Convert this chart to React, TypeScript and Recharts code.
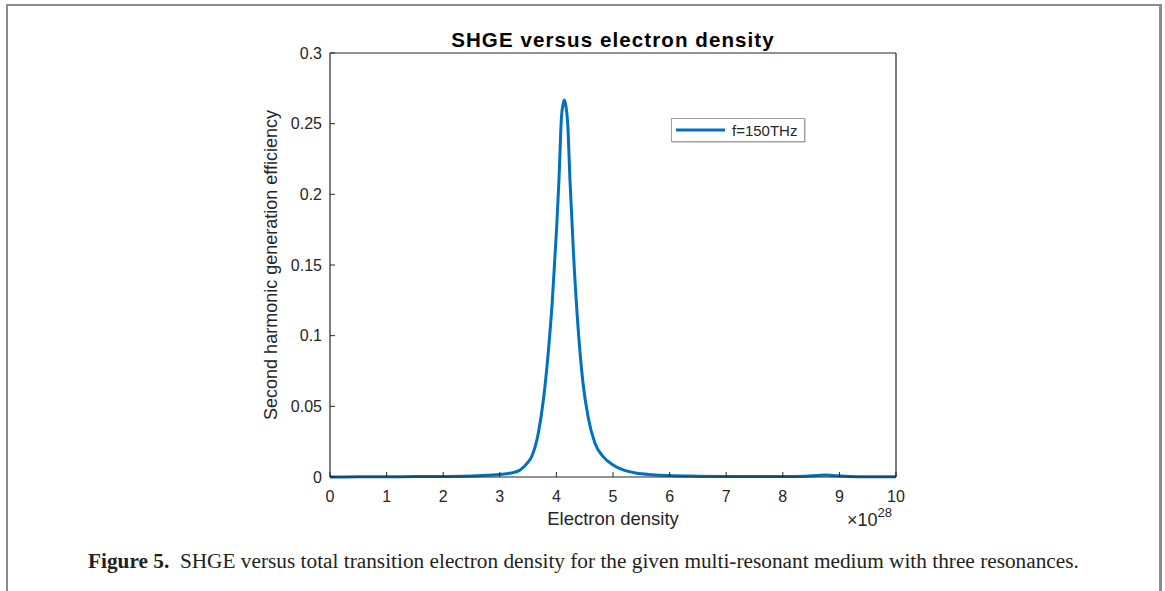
import React from 'react';
import { LineChart, Line, XAxis, YAxis } from 'recharts';

const densityX = [0, 0.5, 1, 1.5, 2, 2.5, 2.8, 3.0, 3.2, 3.36, 3.5, 3.56, 3.68, 3.77, 3.86, 3.925, 3.98, 4.005, 4.045, 4.09, 4.12, 4.14, 4.17, 4.2, 4.24, 4.28, 4.3, 4.37, 4.47, 4.56, 4.68, 4.83, 5.0, 5.18, 5.4, 5.7, 6.0, 6.5, 7, 7.5, 8, 8.4, 8.6, 8.77, 8.95, 9.2, 9.6, 10];
const shgeY = [0, 0.0001, 0.0002, 0.0003, 0.0004, 0.0007, 0.0013, 0.0018, 0.0028, 0.005, 0.0105, 0.0142, 0.031, 0.0545, 0.09, 0.123, 0.16, 0.177, 0.21, 0.255, 0.264, 0.2667, 0.262, 0.25, 0.21, 0.177, 0.16, 0.113, 0.0665, 0.0425, 0.024, 0.0142, 0.0085, 0.005, 0.0028, 0.0016, 0.001, 0.0006, 0.0004, 0.0003, 0.0003, 0.0005, 0.001, 0.0014, 0.0009, 0.0004, 0.0002, 0.0001];
const xTicks = [0, 1, 2, 3, 4, 5, 6, 7, 8, 9, 10];
const yTicks = [0, 0.05, 0.1, 0.15, 0.2, 0.25, 0.3];
const seriesName = 'f=150THz';

const data = densityX.map((x, i) => ({ x, y: shgeY[i] }));

const AX = '#262626';
const FONT = 'Arial, "Liberation Sans", Helvetica, sans-serif';

const LegendBox = () => (
  <div
    style={{
      position: 'absolute',
      left: 671,
      top: 118,
      width: 134,
      height: 24,
      boxSizing: 'border-box',
      border: '1px solid #a0a0a0',
      boxShadow: '1px 1px 0 #d0d0d0',
      background: '#fff',
      display: 'flex',
      alignItems: 'center',
      fontFamily: FONT,
      fontSize: 15,
      color: AX,
    }}
  >
    <svg width={56} height={10} style={{ marginLeft: 4 }}>
      <line x1={0} y1={5} x2={49} y2={5} stroke="#0072BD" strokeWidth={3} />
    </svg>
    <span>{seriesName}</span>
  </div>
);

export default function App() {
  return (
    <div style={{ position: 'fixed', left: 0, top: 0, width: 1165, height: 591, background: '#fff', overflow: 'hidden' }}>
      {/* page frame */}
      <div style={{ position: 'absolute', left: 7, top: 4, width: 1153, height: 2, background: '#8c8c8c' }} />
      <div style={{ position: 'absolute', left: 6, top: 4, width: 2, height: 600, background: '#8c8c8c' }} />
      <div style={{ position: 'absolute', left: 1159, top: 4, width: 3, height: 600, background: '#8c8c8c' }} />

      <div style={{ position: 'absolute', left: 0, top: 0 }}>
        <LineChart
          width={1165}
          height={591}
          data={data}
          margin={{ left: 270, top: 43, right: 259, bottom: 84 }}
        >
          <XAxis
            dataKey="x"
            type="number"
            domain={[0, 10]}
            ticks={xTicks}
            interval={0}
            height={30}
            tickSize={-5}
            tickMargin={19}
            stroke={AX}
            tick={{ fill: AX, fontSize: 16, fontFamily: FONT }}
            axisLine={{ stroke: AX, strokeWidth: 1.2 }}
          />
          <XAxis
            xAxisId="top"
            orientation="top"
            dataKey="x"
            type="number"
            domain={[0, 10]}
            ticks={xTicks}
            interval={0}
            height={10}
            tickSize={-5}
            stroke={AX}
            tick={false}
            axisLine={{ stroke: AX, strokeWidth: 1.2 }}
          />
          <YAxis
            type="number"
            domain={[0, 0.3]}
            ticks={yTicks}
            interval={0}
            width={60}
            tickSize={-5}
            tickMargin={13}
            stroke={AX}
            tick={{ fill: AX, fontSize: 16, fontFamily: FONT }}
            axisLine={{ stroke: AX, strokeWidth: 1.2 }}
          />
          <YAxis
            yAxisId="right"
            orientation="right"
            type="number"
            domain={[0, 0.3]}
            ticks={yTicks}
            interval={0}
            width={10}
            tickSize={-5}
            stroke={AX}
            tick={false}
            axisLine={{ stroke: AX, strokeWidth: 1.2 }}
          />
          <Line
            type="monotone"
            dataKey="y"
            name={seriesName}
            stroke="#0072BD"
            strokeWidth={3}
            dot={false}
            isAnimationActive={false}
          />
        </LineChart>
      </div>

      <LegendBox />

      {/* title */}
      <div style={{ position: 'absolute', left: 330, width: 566, top: 28, textAlign: 'center', fontFamily: FONT, fontWeight: 'bold', fontSize: 20.5, letterSpacing: 1.1, color: '#000' }}>
        SHGE versus electron density
      </div>

      {/* x label */}
      <div style={{ position: 'absolute', left: 330, width: 566, top: 508, textAlign: 'center', fontFamily: FONT, fontSize: 18.5, color: AX }}>
        Electron density
      </div>

      {/* exponent */}
      <div style={{ position: 'absolute', left: 847, top: 510, fontFamily: FONT, fontSize: 18, color: AX, whiteSpace: 'nowrap' }}>
        ×10<sup style={{ fontSize: 13, verticalAlign: 'top', position: 'relative', top: -5 }}>28</sup>
      </div>

      {/* y label */}
      <div
        style={{
          position: 'absolute',
          left: 271,
          top: 265,
          transform: 'translate(-50%, -50%) rotate(-90deg)',
          fontFamily: FONT,
          fontSize: 18,
          color: AX,
          whiteSpace: 'nowrap',
        }}
      >
        Second harmonic generation efficiency
      </div>

      {/* caption */}
      <div style={{ position: 'absolute', left: 88, top: 549, fontFamily: '"Liberation Serif", "Times New Roman", serif', fontSize: 21.3, color: '#231f20', whiteSpace: 'nowrap' }}>
        <b>Figure 5.</b>&nbsp;&nbsp;SHGE versus total transition electron density for the given multi-resonant medium with three resonances.
      </div>
    </div>
  );
}
